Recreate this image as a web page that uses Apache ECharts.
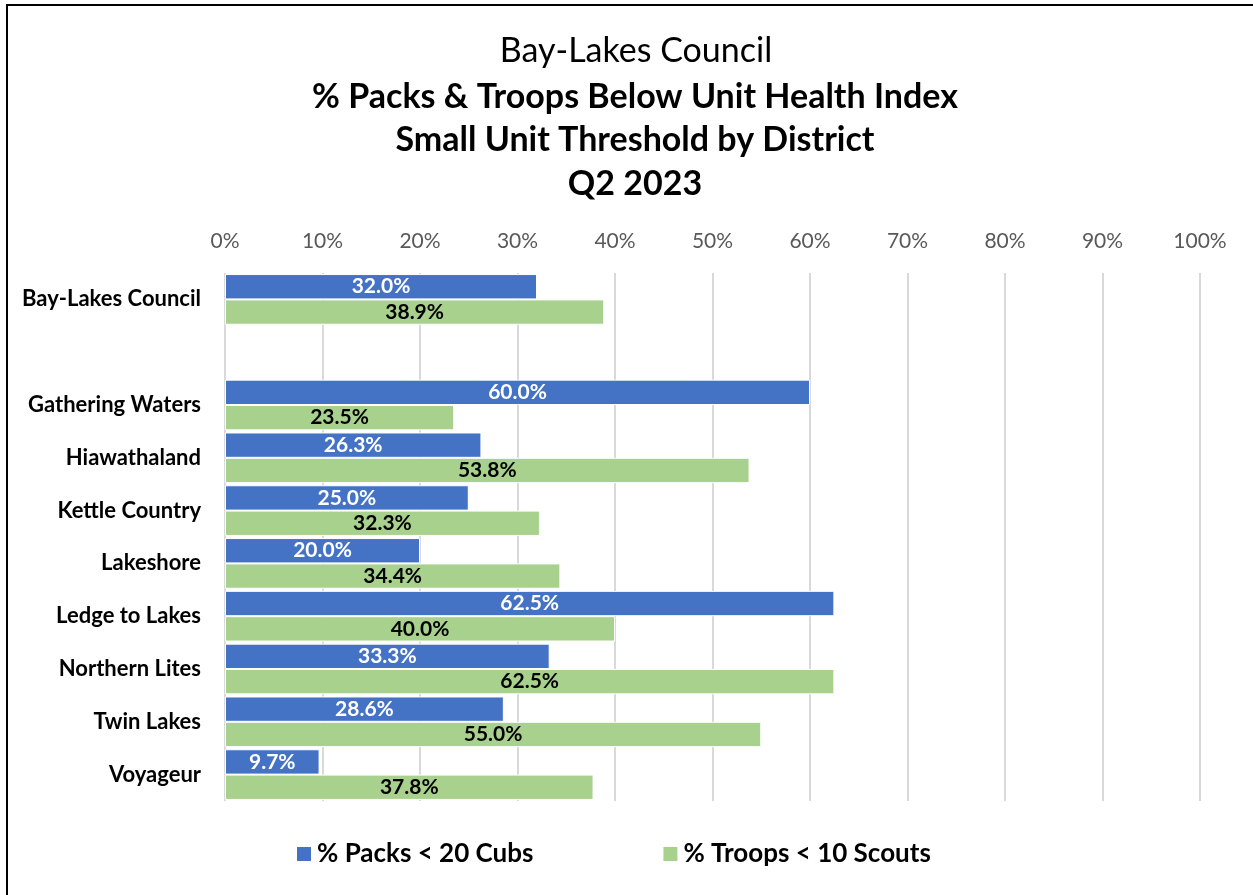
<!DOCTYPE html>
<html>
<head>
<meta charset="utf-8">
<script src="https://cdn.jsdelivr.net/npm/echarts@6/dist/echarts.min.js"></script>
<style>
html,body{margin:0;padding:0;background:#fff;}
#chart{width:1253px;height:895px;}
</style>
</head>
<body>
<div id="chart"></div>
<script>
const categories = ['Bay-Lakes Council', '', 'Gathering Waters', 'Hiawathaland', 'Kettle Country', 'Lakeshore', 'Ledge to Lakes', 'Northern Lites', 'Twin Lakes', 'Voyageur'];
const packsBelow = [32.0, null, 60.0, 26.3, 25.0, 20.0, 62.5, 33.3, 28.6, 9.7];
const troopsBelow = [38.9, null, 23.5, 53.8, 32.3, 34.4, 40.0, 62.5, 55.0, 37.8];
const seriesNames = ['% Packs < 20 Cubs', '% Troops < 10 Scouts'];
const titleLine1 = 'Bay-Lakes Council';
const titleBold = ['% Packs & Troops Below Unit Health Index', 'Small Unit Threshold by District', 'Q2 2023'];

const FONT = 'Lato';
const chart = echarts.init(document.getElementById('chart'), null, {renderer: 'canvas'});
const fmt = p => (p.value == null ? '' : Number(p.value).toFixed(1) + '%');

chart.setOption({
  backgroundColor: '#fff',
  animation: false,
  textStyle: {fontFamily: FONT},
  title: [
    {text: titleLine1, left: 631, top: 29, textAlign: 'center',
     textStyle: {fontFamily: FONT, fontSize: 34, fontWeight: 'normal', color: '#000'}},
    {text: titleBold.join('\n'), left: 630, top: 70, textAlign: 'center',
     textStyle: {fontFamily: FONT, fontSize: 34, fontWeight: 'bold', color: '#000', lineHeight: 43.5}}
  ],
  graphic: [
    {type: 'rect', shape: {x: 7, y: 5, width: 1400, height: 1000}, silent: true,
     style: {fill: 'none', stroke: '#000', lineWidth: 2}}
  ],
  legend: {
    data: seriesNames, left: 290, top: 836, itemWidth: 16, itemHeight: 16, itemGap: 128,
    icon: 'rect',
    textStyle: {fontFamily: FONT, fontSize: 26, fontWeight: 'bold', color: '#000'}
  },
  grid: {left: 225, right: 53, top: 273, bottom: 94, containLabel: false},
  xAxis: {
    type: 'value', position: 'top', min: 0, max: 100, interval: 10,
    axisLine: {show: false}, axisTick: {show: false},
    axisLabel: {formatter: '{value}%', color: '#595959', fontSize: 21, fontFamily: FONT, margin: 21},
    splitLine: {lineStyle: {color: '#d9d9d9', width: 2}}
  },
  yAxis: {
    type: 'category', data: categories, inverse: true,
    axisLine: {show: false}, axisTick: {show: false},
    axisLabel: {color: '#000', fontSize: 22, fontWeight: 'bold', fontFamily: FONT, margin: 24}
  },
  series: [
    {name: seriesNames[0], type: 'bar', data: packsBelow, barGap: '0%', barCategoryGap: '4%',
     itemStyle: {color: '#4472c4', borderColor: '#fff', borderWidth: 1},
     label: {show: true, position: 'inside', formatter: fmt, color: '#fff', fontSize: 21, fontWeight: 'bold', fontFamily: FONT}},
    {name: seriesNames[1], type: 'bar', data: troopsBelow, barGap: '0%', barCategoryGap: '4%',
     itemStyle: {color: '#a9d18e', borderColor: '#fff', borderWidth: 1},
     label: {show: true, position: 'inside', formatter: fmt, color: '#000', fontSize: 21, fontWeight: 'bold', fontFamily: FONT}}
  ]
});
</script>
</body>
</html>
